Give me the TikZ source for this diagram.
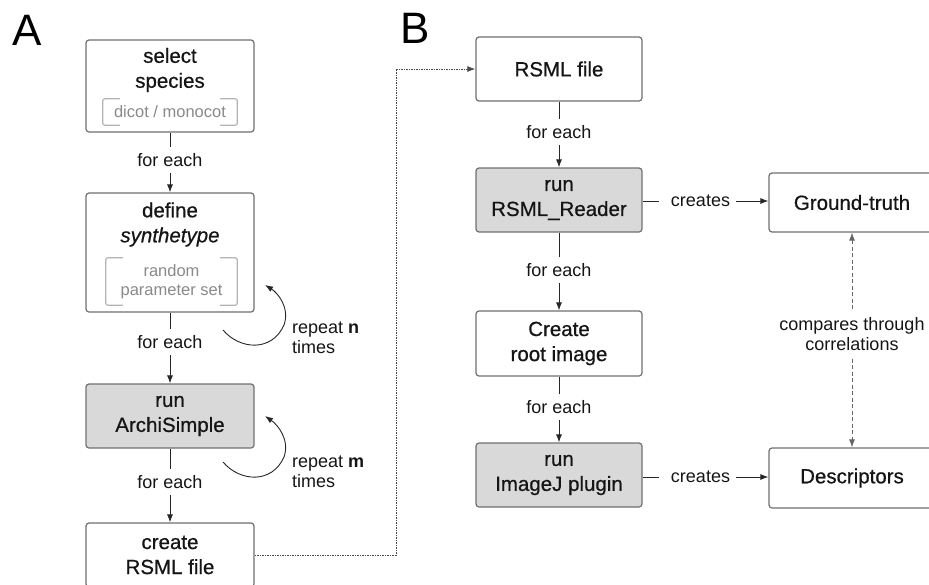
\documentclass[tikz,border=0pt]{standalone}
\usepackage{fontspec}
\setmainfont{Liberation Sans}
\newfontfamily\medfont{Liberation Sans}[RawFeature={embolden=0.6}]
\usetikzlibrary{arrows.meta}
\definecolor{boxline}{HTML}{707070}
\definecolor{boxfill}{HTML}{D9D9D9}
\definecolor{linec}{HTML}{262626}
\definecolor{brkc}{HTML}{B4B4B4}
\definecolor{brktext}{HTML}{8A8A8A}
\definecolor{txt}{HTML}{151515}
\definecolor{dashc}{HTML}{666666}
\definecolor{dotc}{HTML}{4A4A4A}
\begin{document}
\begin{tikzpicture}[x=1pt,y=-1pt,
  box/.style={draw=boxline, line width=1.2pt, rounded corners=3pt, fill=white, text=txt,
    align=center, font=\medfont\fontsize{20.5}{25}\selectfont, inner sep=0pt},
  greybox/.style={box, fill=boxfill},
  boxtext/.style={text=txt, align=center, font=\medfont\fontsize{20.5}{25}\selectfont, inner sep=0pt},
  brkn/.style={text=brktext, align=center, font=\fontsize{16.5}{19}\selectfont, inner sep=0pt},
  brkline/.style={draw=brkc, line width=1.2pt, rounded corners=2pt},
  lab/.style={text=txt, align=center, font=\fontsize{18}{20}\selectfont, inner xsep=0pt, inner ysep=6pt},
  conn/.style={draw=linec, line width=0.9pt},
  arr/.style={conn, -{Latex[length=8pt,width=6pt]}},
  dshd/.style={draw=dashc, line width=0.9pt, dash pattern=on 4pt off 2.5pt, -{Latex[length=8pt,width=6pt]}},
  dotline/.style={draw=dotc, line width=0.9pt, dash pattern=on 1.5pt off 1pt, -{Latex[length=8pt,width=6pt]}},
  panel/.style={text=black, font=\fontsize{44}{44}\selectfont, inner sep=0pt}
]
\useasboundingbox (0,0) rectangle (929,584);
\clip (0,0) rectangle (929,584);

% panel letters
\node[panel] (la) at (27,30) {A};
\node[panel] (lb) at (415,28) {B};

% ---------- A column ----------
\node[box, minimum width=168pt, minimum height=92pt] (sel) at (170,86) {};
\node[boxtext] (selt) at (170,70) {select\\species};
\node[brkn, minimum width=134pt, minimum height=26pt] (selb) at (170,112) {dicot / monocot};
\draw[brkline] ([xshift=17pt]selb.north west) -- (selb.north west) -- (selb.south west) -- ([xshift=17pt]selb.south west);
\draw[brkline] ([xshift=-17pt]selb.north east) -- (selb.north east) -- (selb.south east) -- ([xshift=-17pt]selb.south east);

\node[box, minimum width=168pt, minimum height=119pt] (def) at (170,252.5) {};
\node[boxtext] (deft) at (170,224.5) {define\\\textit{synthetype}};
\node[brkn, minimum width=131pt, minimum height=47pt] (defb) at (171.5,281.5) {random\\parameter set};
\draw[brkline] ([xshift=17pt]defb.north west) -- (defb.north west) -- (defb.south west) -- ([xshift=17pt]defb.south west);
\draw[brkline] ([xshift=-17pt]defb.north east) -- (defb.north east) -- (defb.south east) -- ([xshift=-17pt]defb.south east);

\node[greybox, minimum width=168pt, minimum height=64pt] (arch) at (170,416) {run\\ArchiSimple};
\node[box, minimum width=168pt, minimum height=64pt] (crs) at (170,555) {create\\RSML file};

\node[lab] (f1) at (170,160) {for each};
\node[lab] (f2) at (170,342) {for each};
\node[lab] (f3) at (170,482) {for each};
\draw[conn] (sel) -- (f1);
\draw[arr] (f1) -- (def);
\draw[conn] (def) -- (f2);
\draw[arr] (f2) -- (arch);
\draw[conn] (arch) -- (f3);
\draw[arr] (f3) -- (crs);

% repeat loops
\coordinate (n1) at (223,330);
\coordinate (n2) at (265,285);
\draw[arr] (n1) .. controls (240,350) and (272,352) .. (284,325) .. controls (290,308) and (278,293) .. (n2);
\node[lab, inner sep=0pt, anchor=west, align=left] (rn) at (292,338) {repeat \textbf{n}\\times};

\coordinate (m1) at (223,462);
\coordinate (m2) at (265,416);
\draw[arr] (m1) .. controls (240,482) and (272,484) .. (284,457) .. controls (290,440) and (278,425) .. (m2);
\node[lab, inner sep=0pt, anchor=west, align=left] (rm) at (292,472) {repeat \textbf{m}\\times};

% ---------- B column ----------
\node[box, minimum width=166pt, minimum height=64pt] (rsml) at (559,69) {RSML file};
\node[greybox, minimum width=166pt, minimum height=64pt] (rr) at (559,200) {run\\RSML\_Reader};
\node[box, minimum width=166pt, minimum height=65pt] (cri) at (559,343.5) {Create\\root image};
\node[greybox, minimum width=166pt, minimum height=64pt] (ij) at (559,475) {run\\ImageJ plugin};
\node[box, minimum width=166pt, minimum height=59pt] (gt) at (852,202.5) {Ground-truth};
\node[box, minimum width=166pt, minimum height=60pt] (desc) at (852,478) {Descriptors};

\node[lab] (g1) at (559,132) {for each};
\node[lab] (g2) at (559,270) {for each};
\node[lab] (g3) at (559,407) {for each};
\draw[conn] (rsml) -- (g1);
\draw[arr] (g1) -- (rr);
\draw[conn] (rr) -- (g2);
\draw[arr] (g2) -- (cri);
\draw[conn] (cri) -- (g3);
\draw[arr] (g3) -- (ij);

\node[lab, inner sep=0pt] (c1) at (700.5,201) {creates};
\node[lab, inner sep=0pt] (c2) at (700.5,477) {creates};
\draw[conn] (rr.east |- c1) -- ([xshift=-12pt]c1.west);
\draw[arr] ([xshift=6pt]c1.east) -- (gt.west |- c1);
\draw[conn] (ij.east |- c2) -- ([xshift=-12pt]c2.west);
\draw[arr] ([xshift=6pt]c2.east) -- (desc.west |- c2);

\node[lab, inner ysep=8pt, font=\fontsize{18}{19.5}\selectfont] (cmp) at (852,334) {compares through\\correlations};
\draw[dshd] (cmp) -- (gt);
\draw[dshd] (cmp) -- (desc);

% dotted link A -> B
\coordinate (dc) at (396,69);
\draw[dotline] (crs.east) -| (dc) -- (rsml.west);
\end{tikzpicture}
\end{document}
